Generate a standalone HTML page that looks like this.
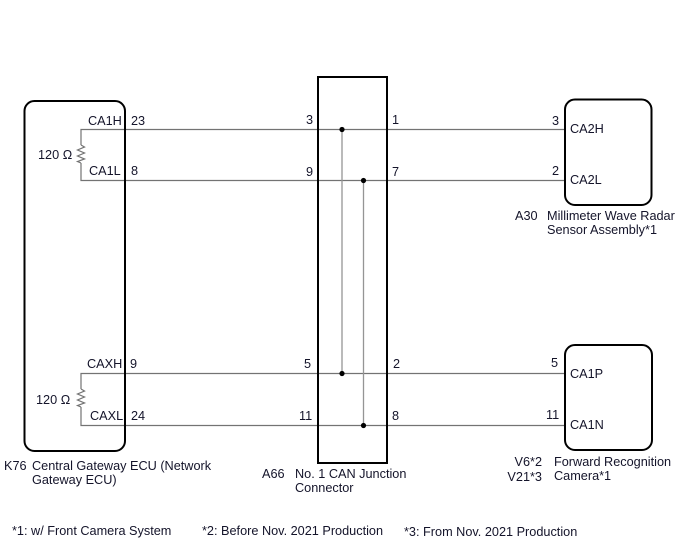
<!DOCTYPE html>
<html><head><meta charset="utf-8"><style>
html,body{margin:0;padding:0;background:#fff;}
svg{display:block;}
text{font-family:"Liberation Sans",Arial,sans-serif;font-size:12.7px;fill:#14142a;}
</style></head><body>
<svg width="688" height="560" viewBox="0 0 688 560" xmlns="http://www.w3.org/2000/svg">
<!-- wires -->
<g stroke="#737373" stroke-width="1.2" fill="none">
<polyline points="81,145 81,129.5 565,129.5"/>
<polyline points="81,163 81,180.5 565,180.5"/>
<polyline points="81,389 81,373.5 565,373.5"/>
<polyline points="81,407 81,425.5 565,425.5"/>
<polyline points="81,145 84.5,147 77.5,150 84.5,153 77.5,156 84.5,159 77.5,161.5 81,163"/>
<polyline points="81,389 84.5,391 77.5,394 84.5,397 77.5,400 84.5,403 77.5,405.5 81,407"/>
</g>
<g stroke="#959595" stroke-width="1.3">
<line x1="342" y1="129.5" x2="342" y2="373.5"/>
<line x1="363.5" y1="180.5" x2="363.5" y2="425.5"/>
</g>
<g fill="#000">
<circle cx="342" cy="129.5" r="2.6"/>
<circle cx="363.5" cy="180.5" r="2.6"/>
<circle cx="342" cy="373.5" r="2.6"/>
<circle cx="363.5" cy="425.5" r="2.6"/>
</g>
<!-- boxes -->
<g stroke="#000" stroke-width="2" fill="none">
<rect x="24.5" y="101" width="100.5" height="350" rx="10"/>
<rect x="318" y="77" width="69" height="386"/>
<rect x="565" y="99.5" width="86.5" height="105.5" rx="10"/>
<rect x="565" y="345" width="87" height="105" rx="10"/>
</g>
<!-- ECU labels -->
<text x="88" y="125">CA1H</text>
<text x="131" y="125">23</text>
<text x="89" y="175">CA1L</text>
<text x="131" y="175">8</text>
<text x="38" y="159">120 Ω</text>
<text x="87" y="368">CAXH</text>
<text x="130" y="368">9</text>
<text x="90" y="420">CAXL</text>
<text x="131" y="420">24</text>
<text x="36" y="404">120 Ω</text>
<!-- junction pins -->
<text x="306" y="124">3</text>
<text x="392" y="124">1</text>
<text x="306" y="176">9</text>
<text x="392" y="176">7</text>
<text x="304" y="368">5</text>
<text x="393" y="368">2</text>
<text x="299" y="420">11</text>
<text x="392" y="420">8</text>
<!-- radar -->
<text x="552" y="125">3</text>
<text x="570" y="133">CA2H</text>
<text x="552" y="175">2</text>
<text x="570" y="184">CA2L</text>
<!-- camera -->
<text x="551" y="367">5</text>
<text x="570" y="378">CA1P</text>
<text x="546" y="419">11</text>
<text x="570" y="429">CA1N</text>
<!-- component names -->
<text x="4" y="470">K76</text>
<text x="32" y="470">Central Gateway ECU (Network</text>
<text x="32" y="484">Gateway ECU)</text>
<text x="262" y="478">A66</text>
<text x="295" y="478">No. 1 CAN Junction</text>
<text x="295" y="492">Connector</text>
<text x="515" y="220">A30</text>
<text x="547" y="220">Millimeter Wave Radar</text>
<text x="547" y="234">Sensor Assembly*1</text>
<text x="542" y="466" text-anchor="end">V6*2</text>
<text x="542" y="481" text-anchor="end">V21*3</text>
<text x="554" y="466">Forward Recognition</text>
<text x="554" y="480">Camera*1</text>
<!-- footnotes -->
<text x="12" y="535">*1: w/ Front Camera System</text>
<text x="202" y="535">*2: Before Nov. 2021 Production</text>
<text x="404" y="536">*3: From Nov. 2021 Production</text>
</svg>
</body></html>
